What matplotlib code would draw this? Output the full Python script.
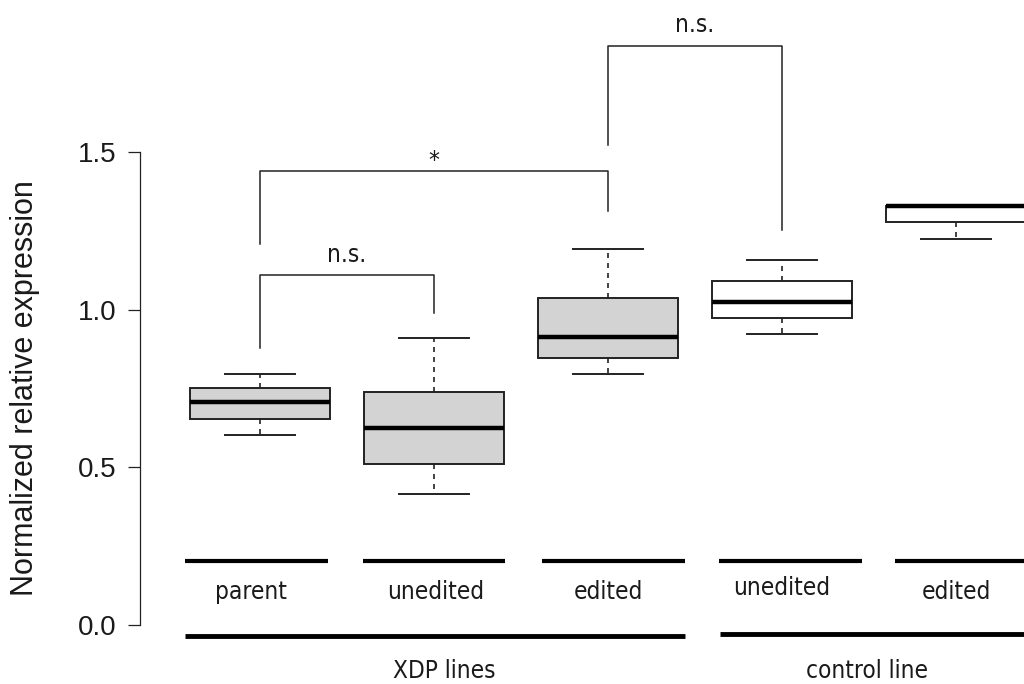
import matplotlib
matplotlib.use('Agg')
import matplotlib.pyplot as plt
from matplotlib import font_manager

# box statistics per sample (whisker low, Q1, median, Q3, whisker high)
groups = ['parent', 'unedited', 'edited', 'unedited', 'edited']
whislo = [0.602, 0.416, 0.797, 0.923, 1.224]
q1 = [0.653, 0.512, 0.847, 0.974, 1.277]
med = [0.706, 0.624, 0.913, 1.024, 1.330]
q3 = [0.752, 0.738, 1.037, 1.092, 1.330]
whishi = [0.797, 0.909, 1.192, 1.159, 1.330]
fills = ['lightgray', 'lightgray', 'lightgray', 'white', 'white']

# significance brackets: (left pos, right pos, left foot, right foot, top, label, label y)
brackets = [
    (1, 2, 0.877, 0.988, 1.109, 'n.s.', 1.173),
    (1, 3, 1.207, 1.314, 1.440, '*', 1.472),
    (3, 4, 1.522, 1.253, 1.836, 'n.s.', 1.903),
]

yticks = [0.0, 0.5, 1.0, 1.5]
ytick_labels = ['0.0', '0.5', '1.0', '1.5']

positions = list(range(1, len(groups) + 1))
ink = '#1a1a1a'

# pick a narrow face for the category labels
installed = {f.name for f in font_manager.fontManager.ttflist}
if 'Liberation Sans Narrow' in installed:
    narrow = dict(family='Liberation Sans Narrow', fontsize=19)
else:
    narrow = dict(family='DejaVu Sans', stretch='condensed', fontsize=17.5)

plt.rcParams['font.family'] = ['Liberation Sans', 'DejaVu Sans']

fig = plt.figure(figsize=(10.24, 6.84), dpi=100)
ax = fig.add_axes([0, 0, 1, 1])
ax.set_xlim(-0.494, 5.391)
ax.set_ylim(-0.187, 1.982)

stats = []
for i in range(len(groups)):
    stats.append(dict(whislo=whislo[i], q1=q1[i], med=med[i], q3=q3[i],
                      whishi=whishi[i], fliers=[]))

bp = ax.bxp(stats, positions=positions, widths=0.8, capwidths=0.4,
            patch_artist=True, showfliers=False,
            boxprops=dict(edgecolor='#222222', linewidth=1.4),
            medianprops=dict(color='black', linewidth=3.2, solid_capstyle='butt'),
            whiskerprops=dict(color='#222222', linewidth=1.2, linestyle=(0, (3, 3))),
            capprops=dict(color='#222222', linewidth=1.4))
for patch, c in zip(bp['boxes'], fills):
    patch.set_facecolor(c)

# brackets with labels
for x0, x1, f0, f1, top, lab, ly in brackets:
    ax.plot([x0, x0, x1, x1], [f0, top, top, f1], color='#222222', lw=1.1,
            clip_on=False)
    ax.text((x0 + x1) / 2, ly, lab, ha='center', va='center', color=ink,
            **narrow)

# category bars and labels under the boxes
bar_centers = [0.98, 2.0, 3.03, 4.05, 5.06]
label_x = [0.95, 2.01, 3.0, 4.0, 5.0]
label_y = [0.105, 0.105, 0.105, 0.117, 0.105]
for c, lx, ly, g in zip(bar_centers, label_x, label_y, groups):
    ax.plot([c - 0.41, c + 0.41], [0.203, 0.203], color='black', lw=3.0,
            solid_capstyle='butt', clip_on=False)
    ax.text(lx, ly, g, ha='center', va='center', color=ink, **narrow)

# line groups
ax.plot([0.569, 3.443], [-0.035, -0.035], color='black', lw=3.5,
        solid_capstyle='butt')
ax.plot([3.644, 5.6], [-0.029, -0.029], color='black', lw=3.5,
        solid_capstyle='butt', clip_on=False)
ax.text(2.06, -0.147, 'XDP lines', ha='center', va='center', color=ink,
        **narrow)
ax.text(4.49, -0.147, 'control line', ha='center', va='center', color=ink,
        **narrow)

# y axis only
for s in ['top', 'right', 'bottom']:
    ax.spines[s].set_visible(False)
ax.spines['left'].set_position(('data', 0.3103))
ax.spines['left'].set_bounds(0, 1.5)
ax.spines['left'].set_linewidth(0.9)
ax.spines['left'].set_color('#222222')
ax.set_yticks(yticks)
ax.set_yticklabels(ytick_labels)
ax.tick_params(axis='y', direction='out', length=8.6, width=0.9, pad=8,
               labelsize=20, colors='#222222', labelcolor=ink)
ax.set_xticks([])
ax.patch.set_visible(False)

ax.text(-0.35, 0.75, 'Normalized relative expression', rotation=90,
        ha='center', va='center', fontsize=22, color=ink)

fig.savefig('out.png', dpi=100)
